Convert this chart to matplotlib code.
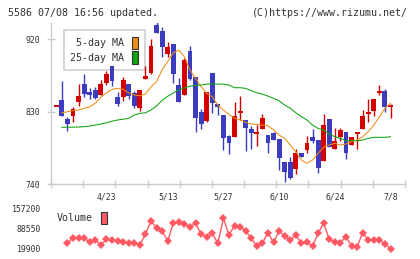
import numpy as np
import matplotlib.pyplot as plt
from matplotlib.patches import Patch
import matplotlib.transforms as mtransforms

# --- 1. DATA ---
# daily OHLC, 61 sessions from 4/10 to 7/8
opens = [837, 844, 821, 824, 842, 864, 854, 857, 851, 865,
         886, 848, 848, 864, 853, 835, 870, 878, 938, 930,
         902, 914, 863, 850, 905, 873, 829, 818, 878, 839,
         826, 800, 799, 829, 820, 808, 803, 808, 801, 803,
         796, 767, 767, 759, 779, 782, 799, 795, 769, 821,
         783, 798, 804, 789, 803, 808, 828, 831, 854, 855, 837]
highs = [837, 868, 823, 836, 864, 877, 859, 861, 869, 880,
         887, 854, 873, 864, 856, 857, 887, 920, 942, 935,
         916, 914, 872, 896, 912, 873, 833, 854, 878, 839,
         826, 801, 842, 849, 820, 812, 813, 827, 801, 805,
         796, 767, 773, 784, 779, 800, 808, 795, 827, 821,
         809, 809, 804, 798, 803, 832, 845, 846, 863, 858, 840]
lows = [837, 825, 806, 817, 837, 848, 846, 846, 851, 863,
        862, 837, 843, 845, 834, 831, 870, 877, 928, 898,
        898, 865, 842, 850, 869, 805, 808, 817, 828, 826,
        782, 777, 799, 819, 781, 784, 787, 808, 779, 795,
        757, 743, 746, 752, 774, 778, 791, 754, 769, 786,
        783, 793, 771, 788, 784, 808, 817, 824, 850, 830, 822]
closes = [837, 825, 815, 833, 849, 852, 850, 847, 864, 877,
          868, 840, 869, 849, 837, 857, 874, 912, 928, 910,
          910, 877, 842, 894, 871, 822, 815, 854, 841, 836,
          797, 791, 824, 829, 810, 803, 803, 822, 791, 795,
          772, 755, 747, 779, 774, 791, 794, 760, 813, 786,
          793, 807, 779, 798, 803, 824, 828, 846, 854, 836, 837]

# moving averages as drawn (start at the 2nd session)
ma5 = [828.5, 829.8, 831, 831.9, 834, 836, 840.2, 847.6, 853.3, 857.6,
       858.8, 857.6, 853.3, 850.5, 849.6, 851.7, 860.8, 867, 882, 892,
       903, 906.3, 898, 881.5, 871.2, 860.8, 852.6, 848.4, 838.1, 831.9,
       826.5, 821.6, 819.5, 816.6, 814.5, 814.1, 813.2, 812.4, 807.1, 800.8,
       796.7, 788.4, 780.1, 769.8, 765.7, 769.8, 778.1, 785.6, 788.4, 790.5,
       788.4, 789.7, 792.5, 794.6, 798.7, 804.9, 813.2, 823.6, 834, 840.2]
ma25 = [810.4, 810.5, 810.6, 810.8, 811.2, 812, 813.2, 814.5, 816.1, 818,
        819.5, 820.5, 821.6, 825.7, 827.8, 828.5, 831.9, 837, 844, 849,
        853, 857, 859.5, 861.5, 862.5, 862.9, 864.1, 864.1, 864.1, 864.1,
        862.9, 859.6, 859.6, 858.8, 855.8, 853.3, 851.7, 849.2, 846.4, 843.4,
        838.1, 834, 828.5, 823.6, 819.5, 813.2, 809.1, 807.1, 802.1, 798.7,
        796.7, 793.8, 793.8, 793.8, 794.6, 796.7, 798, 798, 798, 798.7]

# volume (from the 3rd session)
volume = [39000, 57700, 57700, 57700, 42300, 50000, 33300, 52400, 50000, 46700,
          42300, 39000, 41000, 33300, 69100, 113700, 91200, 80200, 46700, 106000,
          109300, 102600, 94600, 106000, 69100, 61100, 72400, 39000, 122700, 66800,
          97900, 94600, 80200, 55700, 29900, 39000, 74500, 42300, 80200, 64400,
          50000, 66800, 39000, 42300, 29900, 72400, 106000, 52400, 42300, 41000,
          61100, 29900, 27600, 74500, 50000, 50000, 50000, 36600, 19900]

date_labels = ["4/23", "5/13", "5/27", "6/10", "6/24", "7/8"]
date_idx = [9, 20, 30, 40, 50, 60]
price_ticks = [740, 830, 920]
vol_ticks = [19900, 88550, 157200]

# --- 2. STYLE ---
RED = '#d40000'
BLUE = '#3c3cbe'
ORANGE = '#f08c14'
GREEN = '#0fa50f'
VOLC = '#ff5a64'
GRID = '#cccccc'
TXT = '#333333'
MONO = 'DejaVu Sans Mono'

W, H = 420, 259
fig = plt.figure(figsize=(W / 100, H / 100), dpi=100)


def px_axes(x0, y0, x1, y1):
    # axes placed with pixel edges (y from top)
    return fig.add_axes([x0 / W, 1 - y1 / H, (x1 - x0) / W, (y1 - y0) / H])


ax = px_axes(51, 23, 405, 184)
axv = px_axes(51, 204, 405, 253)

n = len(closes)
x = np.arange(n)
xlo, xhi = -0.95, 62.6

# --- 3. CANDLES ---
for i in range(n):
    o, h, l, c = opens[i], highs[i], lows[i], closes[i]
    col = RED if c >= o else BLUE
    ax.vlines(x[i], l, h, color=col, lw=1, zorder=3)
    if c == o:
        ax.hlines(c, x[i] - 0.45, x[i] + 0.45, color=col, lw=1.4, zorder=4)
    else:
        ax.bar(x[i], abs(c - o), bottom=min(o, c), width=0.88, color=col,
               linewidth=0, zorder=4)

ax.plot(x[1:], ma5, color=ORANGE, lw=0.75, zorder=5)
ax.plot(x[1:], ma25, color=GREEN, lw=0.75, zorder=5)

ax.set_xlim(xlo, xhi)
ax.set_ylim(740, 940)
for s in ['top', 'right']:
    ax.spines[s].set_visible(False)
for s in ['left', 'bottom']:
    ax.spines[s].set_color(GRID)
    ax.spines[s].set_linewidth(1)

ax.set_yticks(price_ticks)
ax.set_yticklabels([str(v) for v in price_ticks], fontfamily=MONO, fontsize=5.9, color=TXT)
ax.tick_params(axis='y', direction='inout', length=6, width=1, color=GRID, pad=5)
ax.set_xticks(np.linspace(xlo, xhi, 12))
ax.set_xticklabels([])
ax.tick_params(axis='x', direction='inout', length=6, width=1, color=GRID)

trans = mtransforms.blended_transform_factory(ax.transData, fig.transFigure)
for lab, i in zip(date_labels, date_idx):
    ax.text(i, 1 - 197.5 / H, lab, transform=trans, ha='center', va='center',
            fontfamily=MONO, fontsize=5.9, color=TXT)

handles = [Patch(facecolor=ORANGE, edgecolor='#333333', lw=0.8),
           Patch(facecolor=GREEN, edgecolor='#333333', lw=0.8)]
leg = ax.legend(handles, ['5-day MA', '25-day MA'], loc='upper left',
                bbox_to_anchor=(64 / W, 1 - 30 / H), bbox_transform=fig.transFigure,
                borderaxespad=0, markerfirst=False, fancybox=False, framealpha=1,
                edgecolor=GRID, handlelength=0.6, handleheight=1.55,
                handletextpad=0.75, labelspacing=0.2, borderpad=0.65,
                prop={'family': MONO, 'size': 7.2})
leg.get_frame().set_linewidth(1.1)
leg.set_zorder(1)
for t in leg.get_texts():
    t.set_color(TXT)

# --- 4. VOLUME ---
axv.plot(x[2:], volume, color=VOLC, lw=1, marker='D', ms=4, mew=0, zorder=3)
axv.set_xlim(xlo, xhi)
axv.set_ylim(19900 - 4 * 3349, 157200 + 4 * 3349)
for s in axv.spines.values():
    s.set_visible(False)
axv.set_xticks([])
axv.set_yticks(vol_ticks)
axv.set_yticklabels([str(v) for v in vol_ticks], fontfamily=MONO, fontsize=5.9, color=TXT)
axv.tick_params(axis='y', length=0, pad=7)

vleg = axv.legend([Patch(facecolor=VOLC, edgecolor='#333333', lw=0.8)], ['Volume'],
                  loc='upper left', bbox_to_anchor=(57 / W, 1 - 212 / H),
                  bbox_transform=fig.transFigure, borderaxespad=0, markerfirst=False,
                  frameon=False, handlelength=0.6, handleheight=1.5,
                  handletextpad=0.8, borderpad=0, prop={'family': MONO, 'size': 7.2})
for t in vleg.get_texts():
    t.set_color(TXT)

# --- 5. HEADER ---
fig.text(8 / W, 1 - 13 / H, "5586 07/08 16:56 updated.", fontfamily=MONO,
         fontsize=7.2, color=TXT, va='center', ha='left')
fig.text(408 / W, 1 - 13 / H, "(C)https://www.rizumu.net/", fontfamily=MONO,
         fontsize=7.2, color=TXT, va='center', ha='right')

fig.savefig('out.png', dpi=100)
